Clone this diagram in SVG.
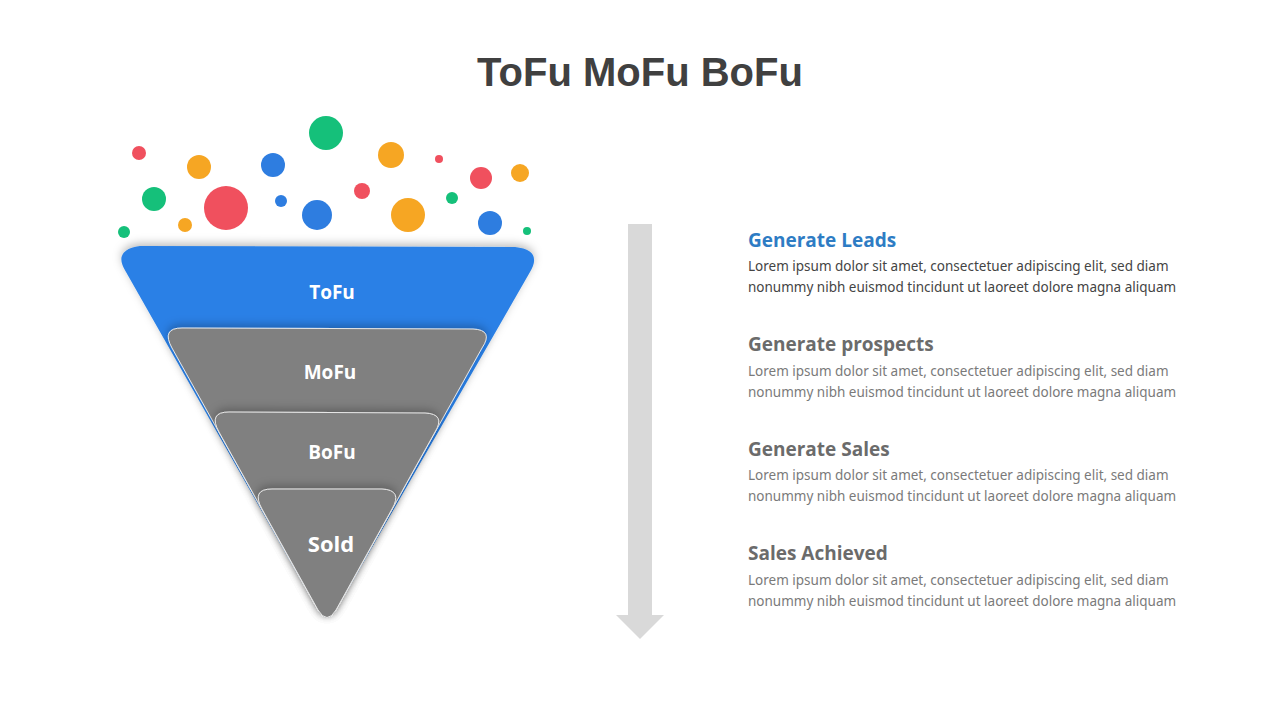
<svg xmlns="http://www.w3.org/2000/svg" width="1280" height="720" viewBox="0 0 1280 720">
<defs>
<filter id="sh" x="-20%" y="-20%" width="140%" height="140%"><feDropShadow dx="0" dy="-3" stdDeviation="4" flood-color="#000" flood-opacity="0.25"/></filter>
<style>
.t{font-family:"Open Sans","Noto Sans",sans-serif;font-weight:700;fill:#fff;text-anchor:middle}
.h{font-family:"Open Sans","Noto Sans",sans-serif;font-weight:700;font-size:19px;fill:#6b6b6b}
.b{font-family:"Noto Sans","Open Sans",sans-serif;font-size:13.5px;fill:#7a7a7a}
.tier{fill:#808080;stroke:#e8e8e8;stroke-width:1;filter:url(#sh)}
</style>
</defs>
<rect width="1280" height="720" fill="#fff"/>
<text x="640" y="86" font-family="Liberation Sans,Arial,sans-serif" font-weight="700" font-size="40" fill="#404040" text-anchor="middle">ToFu MoFu BoFu</text>
<g id="bubbles">
<circle cx="139" cy="153" r="7" fill="#f0505e"/><circle cx="199" cy="167" r="12" fill="#f6a623"/>
<circle cx="273" cy="165" r="12" fill="#2e7de0"/><circle cx="326" cy="133" r="17" fill="#15c07a"/>
<circle cx="391" cy="155" r="13" fill="#f6a623"/><circle cx="439" cy="159" r="4" fill="#f0505e"/>
<circle cx="481" cy="178" r="11" fill="#f0505e"/><circle cx="520" cy="173" r="9" fill="#f6a623"/>
<circle cx="154" cy="199" r="12" fill="#15c07a"/><circle cx="226" cy="208" r="22" fill="#f0505e"/>
<circle cx="281" cy="201" r="6" fill="#2e7de0"/><circle cx="317" cy="215" r="15" fill="#2e7de0"/>
<circle cx="362" cy="191" r="8" fill="#f0505e"/><circle cx="408" cy="215" r="17" fill="#f6a623"/>
<circle cx="452" cy="198" r="6" fill="#15c07a"/><circle cx="490" cy="223" r="12" fill="#2e7de0"/>
<circle cx="124" cy="232" r="6" fill="#15c07a"/><circle cx="185" cy="225" r="7" fill="#f6a623"/>
<circle cx="527" cy="231" r="4" fill="#15c07a"/>
</g>
<g id="tofu">
<path d="M126,272 Q112,250 140,246 L515,247 Q543,250 530,272 L336,610 Q327,625 318,610 Z" fill="#2a80e6" filter="url(#sh)"/>
<text class="t" x="332" y="299" font-size="19">ToFu</text>
</g>
<g id="mofu">
<path class="tier" d="M172,348 Q161,328 182,328 L473,329 Q494,330 482,348 L336,610 Q327,625 318,610 Z"/>
<text class="t" x="330" y="379" font-size="19">MoFu</text>
</g>
<g id="bofu">
<path class="tier" d="M219,432 Q208,412 229,412 L425,413 Q446,414 435,432 L336,610 Q327,625 318,610 Z"/>
<text class="t" x="332" y="459" font-size="19">BoFu</text>
</g>
<g id="sold">
<path class="tier" d="M262,509 Q251,489 272,489 L382,489 Q403,490 392,509 L336,610 Q327,625 318,610 Z"/>
<text class="t" x="331" y="552" font-size="22">Sold</text>
</g>
<g id="connectors">
<path d="M628,224 H652 V615 H664 L640,639 L616,615 H628 Z" fill="#d9d9d9"/>
</g>
<g id="t1">
<text class="h" x="748" y="247" style="fill:#2e7cc4">Generate Leads</text>
<text class="b" x="748" y="271" style="fill:#444">Lorem ipsum dolor sit amet, consectetuer adipiscing elit, sed diam</text>
<text class="b" x="748" y="292" style="fill:#444">nonummy nibh euismod tincidunt ut laoreet dolore magna aliquam</text>
</g>
<g id="t2">
<text class="h" x="748" y="351">Generate prospects</text>
<text class="b" x="748" y="376">Lorem ipsum dolor sit amet, consectetuer adipiscing elit, sed diam</text>
<text class="b" x="748" y="397">nonummy nibh euismod tincidunt ut laoreet dolore magna aliquam</text>
</g>
<g id="t3">
<text class="h" x="748" y="456">Generate Sales</text>
<text class="b" x="748" y="480">Lorem ipsum dolor sit amet, consectetuer adipiscing elit, sed diam</text>
<text class="b" x="748" y="501">nonummy nibh euismod tincidunt ut laoreet dolore magna aliquam</text>
</g>
<g id="t4">
<text class="h" x="748" y="560">Sales Achieved</text>
<text class="b" x="748" y="585">Lorem ipsum dolor sit amet, consectetuer adipiscing elit, sed diam</text>
<text class="b" x="748" y="606">nonummy nibh euismod tincidunt ut laoreet dolore magna aliquam</text>
</g>
</svg>
